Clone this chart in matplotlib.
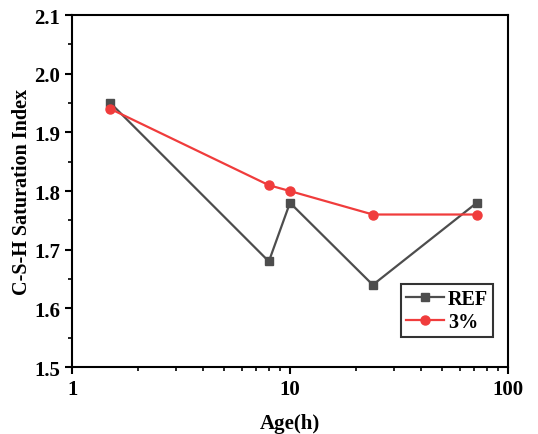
import numpy as np
import matplotlib
matplotlib.use('Agg')
import matplotlib.pyplot as plt
from matplotlib.ticker import MultipleLocator, LogLocator, NullFormatter, FixedLocator

plt.rcParams['font.family'] = ['Liberation Serif', 'DejaVu Serif']
plt.rcParams['font.weight'] = 'bold'

age_h = [1.5, 8, 10, 24, 72]
ref = [1.95, 1.68, 1.78, 1.64, 1.78]
pct3 = [1.94, 1.81, 1.80, 1.76, 1.76]

fig = plt.figure(figsize=(5.38, 4.35), dpi=100)
ax = fig.add_axes([0.134, 0.154, 0.810, 0.809])

ax.plot(age_h, ref, color='#4d4d4d', marker='s', markersize=6, lw=1.6, label='REF')
ax.plot(age_h, pct3, color='#f03c3c', marker='o', markersize=6.5, lw=1.6, label='3%')

ax.set_xscale('log')
ax.set_xlim(1, 100)
ax.set_ylim(1.5, 2.1)
ax.xaxis.set_major_locator(FixedLocator([1, 10, 100]))
ax.set_xticklabels(['1', '10', '100'])
ax.xaxis.set_minor_locator(LogLocator(base=10, subs=np.arange(2, 10)))
ax.xaxis.set_minor_formatter(NullFormatter())
ax.yaxis.set_major_locator(MultipleLocator(0.1))
ax.yaxis.set_minor_locator(MultipleLocator(0.05))
ax.yaxis.set_major_formatter(plt.FormatStrFormatter('%.1f'))

for s in ax.spines.values():
    s.set_linewidth(1.5)
ax.tick_params(which='major', direction='out', length=5, width=1.5, labelsize=15)
ax.tick_params(which='minor', direction='out', length=3, width=1.2)

ax.set_xlabel('Age(h)', fontsize=15, fontweight='bold', labelpad=10)
ax.set_ylabel('C-S-H Saturation Index', fontsize=14.5, fontweight='bold', labelpad=2)

leg = ax.legend(loc='lower right', bbox_to_anchor=(0.966, 0.085), fancybox=False,
                edgecolor='black', fontsize=14.5, handlelength=1.9,
                borderpad=0.25, labelspacing=0.15, handletextpad=0.2,
                borderaxespad=0.0)
leg.get_frame().set_linewidth(1.5)

fig.savefig('out.png', dpi=100)
